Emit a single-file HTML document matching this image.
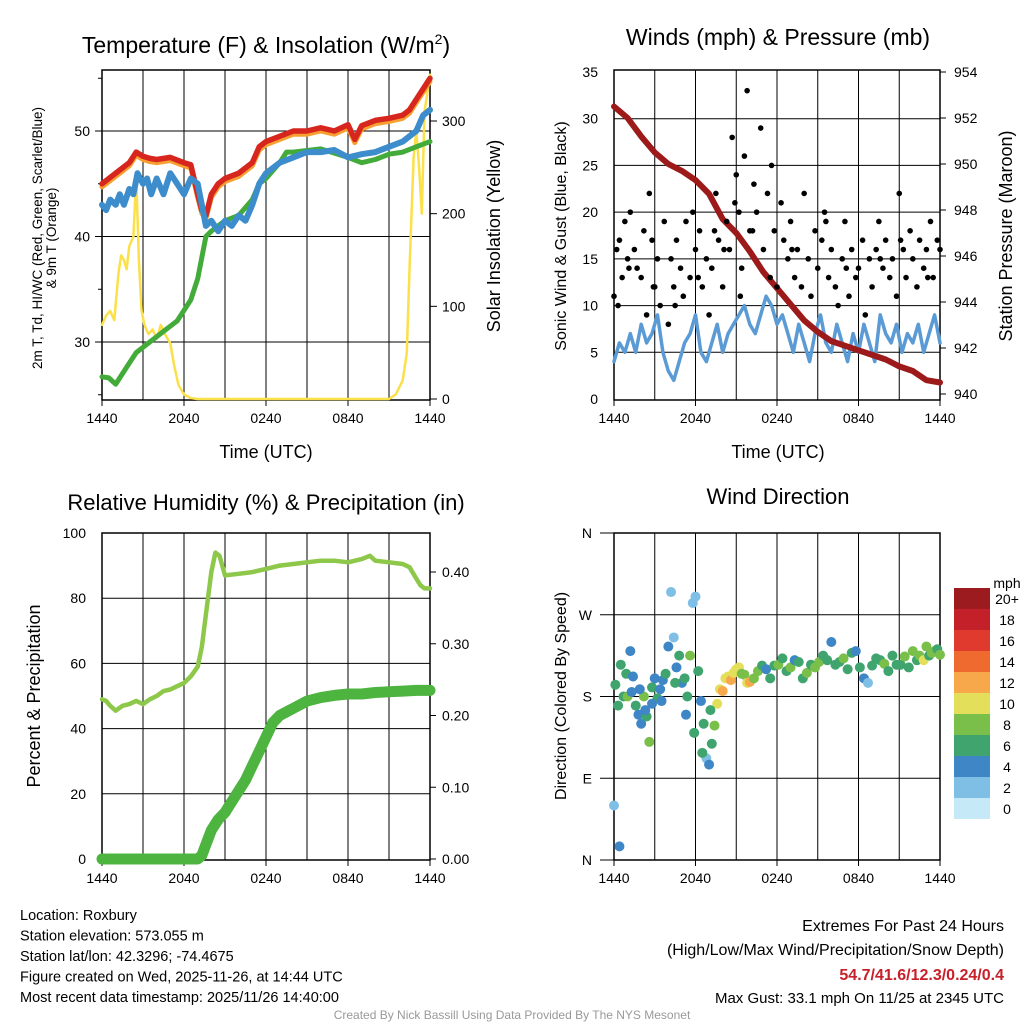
<!DOCTYPE html>
<html><head><meta charset="utf-8"><style>
body{margin:0;background:#fff;font-family:"Liberation Sans",sans-serif}
svg text{font-family:"Liberation Sans",sans-serif}
</style></head><body>
<svg id="s" width="1024" height="1024" xmlns="http://www.w3.org/2000/svg"></svg>
<script>
// ---- data (time in hours since 14:40 UTC) ----
const xTickLabels=["1440","2040","0240","0840","1440"];
const tempH=[0,0.5,1,1.5,2,2.5,3,3.5,4,5,6,6.5,7,7.3,7.6,8,8.5,9,10,11,11.5,12,13,14,15,16,17,18,18.5,19,20,21,22,22.5,23,23.5,24];
const tempV=[45,45.5,46,46.5,47,48,47.6,47.4,47.3,47.5,47,46.8,44,42.5,42,44,45,45.5,46,47,48.5,49,49.5,50,50,50.3,50,50.6,49.2,50.5,51,51.2,51.5,52,53,54,55];
const dewH=[0,0.3,0.6,1,1.3,1.6,2,2.3,2.6,3,3.3,3.6,4,4.5,5,5.5,6,6.5,7,7.3,7.6,8,8.5,9,9.5,10,10.5,11,11.5,12,13,14,15,16,17,18,19,20,21,22,22.5,23,23.5,24];
const dewV=[43,42.5,43.5,43,44,43,44.5,44,46,45,45.5,44,45.5,44,46,45,44,45.5,45,43,41,41.5,40.5,41.5,41,42,41.5,43,45,46,47,47.5,48,48,48.2,47.5,47.8,48,48.5,49,49.5,50,51.5,52];
const greenH=[0,0.5,1,1.5,2,2.5,3,3.5,4,4.5,5,5.5,6,6.5,7,7.3,7.6,8,8.5,9,10,11,11.5,12,13,13.5,14,16,18,19,20,21,22,23,24];
const greenV=[26.7,26.6,26,27,28,29,29.5,30,30.5,31,31.5,32,33,34,36,38,40,40.5,41,41.5,42,43.5,45,45.5,47,48,48,48.3,47.5,47,47.3,47.8,48,48.5,49];
const solarH=[0,0.3,0.6,0.9,1.2,1.4,1.6,1.8,2,2.3,2.5,2.7,2.9,3.1,3.4,3.7,4,4.3,4.6,5,5.3,5.6,6,6.5,7,21,21.5,22,22.3,22.5,22.8,23,23.2,23.4,23.6,23.8,24];
const solarV=[80,90,95,85,135,155,150,140,165,175,240,150,95,80,70,75,65,80,70,60,35,15,5,1,0,0,5,20,50,140,260,290,250,200,310,330,350];
const presH=[0,1,2,3,4,5,6,7,8,9,10,11,12,13,14,15,16,17,18,19,20,21,22,23,24];
const presV=[952.5,952,951.2,950.5,950,949.7,949.3,948.7,947.6,947,946.2,945.3,944.6,943.9,943.2,942.7,942.3,942.1,941.9,941.7,941.5,941.2,941,940.6,940.5];
const windH=[0,0.4,0.8,1.2,1.6,2,2.4,2.8,3.2,3.6,4,4.4,4.8,5.2,5.6,6,6.4,6.8,7.2,7.6,8,8.4,8.8,9.2,9.6,10,10.4,10.8,11.2,11.6,12,12.4,12.8,13.2,13.6,14,14.4,14.8,15.2,15.6,16,16.4,16.8,17.2,17.6,18,18.4,18.8,19.2,19.6,20,20.4,20.8,21.2,21.6,22,22.4,22.8,23.2,23.6,24];
const windV=[4,6,5,7,5,8,6,7,9,5,3,2,4,6,7,9,5,4,6,8,5,7,8,9,10,8,7,9,11,10,8,9,7,5,8,6,4,7,9,6,5,8,6,4,7,5,8,6,4,9,7,6,8,5,7,6,8,5,7,9,6];
const gustH=[0,0.2,0.4,0.6,0.8,1,1.2,1.5,1.7,2,2.2,2.4,2.6,2.8,3,3.2,3.4,3.7,4,4.2,4.4,4.6,4.9,5.1,5.3,5.6,5.8,6,6.3,6.5,6.8,7,7.2,7.5,7.7,8,8.3,8.5,8.7,9,9.2,9.4,9.6,9.8,10,10.3,10.5,10.8,11,11.3,11.5,11.8,12,12.3,12.5,12.8,13,13.3,13.5,13.8,14,14.3,14.5,14.8,15,15.3,15.5,15.8,16,16.3,16.5,16.8,17,17.3,17.5,17.8,18,18.3,18.5,18.8,19,19.3,19.5,19.8,20,20.3,20.5,20.8,21,21.3,21.5,21.8,22,22.3,22.5,22.8,23,23.3,23.5,23.8,24,0.3,1.1,2.9,4.5,6.2,7.4,8.1,8.9,9.3,10.2,11.6,13.1,15.6,17.1,19.6,21.1,23.1];
const gustV=[11,16,17,13,19,15,20,16,14,13,18,9,22,17,12,15,10,19,8,15,12,17,14,11,19,13,20,16,18,12,15,9,14,22,17,12,19,16,28,24,20,14,26,33,18,23,20,29,16,22,13,18,12,21,17,15,19,13,16,12,22,15,11,18,14,17,20,13,16,12,10,15,19,11,16,13,14,17,9,15,12,16,19,14,17,13,15,11,22,16,13,18,15,12,17,14,16,19,13,17,16,10,14,12,10,13,18,16,21,11,18,25,16,19,14,15,17,13,11];
const dirH=[0,0.1,0.3,0.5,0.7,0.9,1,1.2,1.4,1.6,1.8,2,2.2,2.4,2.6,2.8,3,3.2,3.4,3.6,3.8,4,4.2,4.4,4.6,4.8,5,5.2,5.4,5.6,5.8,6,6.2,6.4,6.6,6.8,7,7.2,7.4,7.6,7.8,8,8.2,8.4,8.6,8.8,9,9.2,9.4,9.6,9.8,10,10.3,10.6,10.9,11.2,11.5,11.8,12.1,12.4,12.7,13,13.3,13.6,13.9,14.2,14.5,14.8,15.1,15.4,15.7,16,16.3,16.6,16.9,17.2,17.5,17.8,18.1,18.4,18.7,19,19.3,19.6,19.9,20.2,20.5,20.8,21.1,21.4,21.7,22,22.3,22.5,22.8,23,23.2,23.4,23.6,23.8,24,0.4,1.3,2.8,3.5,4.5,5.3,5.9,6.5,7.1,1.9,2.3];
const dirV=[60,193,170,215,180,205,180,230,202,170,160,150,180,158,130,190,200,178,188,198,205,235,295,245,212,225,195,200,180,225,283,290,208,175,150,112,105,128,148,172,188,186,200,202,198,206,210,212,205,204,195,196,200,208,214,210,200,214,215,222,208,212,220,218,200,206,215,212,218,225,220,240,215,218,222,210,228,230,212,200,195,214,222,220,216,208,225,215,215,224,212,230,220,225,220,235,225,228,230,232,226,15,185,172,175,195,160,140,118,165,188,165,198];
const dirS=[2,6,6,5,6,6,8,4,4,5,4,4,8,6,8,6,4,5,4,4,6,4,2,2,4,6,4,6,5,8,2,2,6,4,6,2,4,6,8,10,10,12,10,10,12,10,10,10,8,8,10,12,8,8,6,4,6,6,8,6,6,8,4,6,6,8,6,8,8,6,6,4,6,6,8,6,6,4,6,4,2,6,6,6,8,6,6,6,6,8,6,8,6,8,10,8,6,8,8,6,8,4,4,4,4,6,4,6,6,6,4,4];
const rhH=[0,0.3,0.6,1,1.5,2,2.5,3,3.5,4,4.5,5,5.5,6,6.5,7,7.3,7.6,8,8.3,8.6,9,10,11,12,13,14,15,16,17,18,19,19.6,20,21,22,22.5,23,23.3,23.6,24];
const rhV=[49,48.5,47,45.5,47,47.5,48.5,47.5,49,50,51.5,52,53,54,56,59,65,75,88,94,93,87,87.5,88,89,90,90.5,91,91.5,91.5,91,92,93,91.5,91,90.5,89.5,86,84,83,83];
const prH=[0,1,2,3,4,5,6,7,7.3,7.6,8,8.5,9,9.5,10,10.5,11,11.5,12,12.5,13,13.5,14,15,16,17,18,19,20,21,22,23,24];
const prV=[0,0,0,0,0,0,0,0,0.005,0.02,0.04,0.055,0.065,0.08,0.095,0.11,0.13,0.15,0.17,0.19,0.2,0.205,0.21,0.22,0.225,0.228,0.23,0.23,0.232,0.233,0.234,0.235,0.235];
const cbLabels=["0","2","4","6","8","10","12","14","16","18","20+"];
const cbColors=["#c6e9f8","#7fbfe6","#3f86c6","#3fa46e","#79bf4a","#e3df5a","#f7a84a","#ef6a2e","#e03a2e","#c4202a","#9b1b1e"];

const S=document.getElementById('s');const NS="http://www.w3.org/2000/svg";
function el(t,a,txt){const e=document.createElementNS(NS,t);for(const k in a)e.setAttribute(k,a[k]);if(txt!==undefined)e.textContent=txt;S.appendChild(e);return e;}
function txt(x,y,s,size,anchor,name,extra){const e=el('text',Object.assign({x:x,y:y,'font-size':size,'text-anchor':anchor||'middle',fill:'#000'},extra||{}),s);

return e;}
function lin(a0,a1,p0,p1){return v=>p0+(v-a0)*(p1-p0)/(a1-a0);}
function path(xs,ys,fx,fy){return xs.map((h,i)=>(i?'L':'M')+fx(h).toFixed(1)+','+fy(ys[i]).toFixed(1)).join('');}
function line(xs,ys,fx,fy,col,w,name){const p=el('path',{d:path(xs,ys,fx,fy),fill:'none',stroke:col,'stroke-width':w,'stroke-linejoin':'round','stroke-linecap':'round'});

}
function frame(x0,y0,x1,y1,name){
 for(let k=1;k<8;k++){const x=x0+(x1-x0)*k/8;const g=el('line',{x1:x,x2:x,y1:y0,y2:y1,stroke:'#000','stroke-width':1});
 
 }
 const r=el('rect',{x:x0,y:y0,width:x1-x0,height:y1-y0,fill:'none',stroke:'#000','stroke-width':1.5});
 
 
 xTickLabels.forEach((l,i)=>{const x=x0+(x1-x0)*i/4;el('line',{x1:x,x2:x,y1:y1,y2:y1+6,stroke:'#000'});txt(x,y1+23,l,14,'middle','x-tick-label');});
}
function hgrid(x0,x1,y){const g=el('line',{x1:x0,x2:x1,y1:y,y2:y,stroke:'#000','stroke-width':1});

}

// ---- Panel 1 ----
{const x0=102,x1=430,y0=70,y1=400;const fx=lin(0,24,x0,x1);const fy=lin(30,50,342,131);const fs=lin(0,300,399,121);
[30,40,50].forEach(v=>{hgrid(x0,x1,fy(v));el('line',{x1:x0-7,x2:x0,y1:fy(v),y2:fy(v),stroke:'#000'});txt(x0-12,fy(v)+5,String(v),14,'end','temp-y-tick');});
[25,35,45,55].forEach(v=>el('line',{x1:x0-4,x2:x0,y1:fy(v),y2:fy(v),stroke:'#000'}));
[0,100,200,300].forEach(v=>{el('line',{x1:x1,x2:x1+7,y1:fs(v),y2:fs(v),stroke:'#000'});txt(x1+12,fs(v)+5,String(v),14,'start','solar-y-tick');});
frame(x0,y0,x1,y1,'temperature-plot-area');
line(solarH,solarV,fx,fs,'#fbe04a',2.5,'solar-insolation-line');
line(greenH,greenV,fx,fy,'#43ab3a',5,'dewpoint-line');
line(tempH,tempV.map(v=>v-0.3),fx,fy,'#f7a030',5,'9m-temp-line');
line(tempH,tempV,fx,fy,'#d7261e',5.5,'temperature-line');
line(dewH,dewV,fx,fy,'#3d8ccb',6,'hiwc-line');
const t=txt(266,53,'Temperature (F) & Insolation (W/m',23,'middle','temperature-chart-title');const ts=document.createElementNS(NS,'tspan');ts.setAttribute('dy','-9');ts.setAttribute('font-size','14');ts.textContent='2';t.appendChild(ts);const ts2=document.createElementNS(NS,'tspan');ts2.setAttribute('dy','9');ts2.textContent=')';t.appendChild(ts2);
txt(266,458,'Time (UTC)',18,'middle','temp-x-axis-title');
txt(0,0,'2m T, Td, HI/WC (Red, Green, Scarlet/Blue)',13.5,'middle','temp-y-axis-title',{transform:'translate(42,238) rotate(-90)'});
txt(0,0,'& 9m T (Orange)',13.5,'middle','temp-y-axis-title-2',{transform:'translate(56,238) rotate(-90)'});
txt(0,0,'Solar Insolation (Yellow)',18,'middle','solar-y-axis-title',{transform:'translate(500,236) rotate(-90)'});
}
// ---- Panel 2 ----
{const x0=614,x1=940,y0=70,y1=400;const fx=lin(0,24,x0,x1);const fy=lin(0,35,399,72);const fp=lin(940,954,394,72);
[5,10,15,20,25,30].forEach(v=>hgrid(x0,x1,fy(v)));
[0,5,10,15,20,25,30,35].forEach(v=>txt(x0-16,fy(v)+5,String(v),14,'end','wind-y-tick'));
[940,942,944,946,948,950,952,954].forEach(v=>{el('line',{x1:x1,x2:x1+6,y1:fp(v),y2:fp(v),stroke:'#000'});txt(x1+14,fp(v)+5,String(v),14,'start','pressure-y-tick');});
frame(x0,y0,x1,y1,'wind-plot-area');
line(windH,windV,fx,fy,'#5b9bd5',3.5,'sonic-wind-line');
line(presH,presV,fx,fp,'#9c1a1a',6,'pressure-line');
gustH.forEach((h,i)=>{const c=el('circle',{cx:fx(h),cy:fy(gustV[i]),r:2.8,fill:'#000'});

});
txt(778,45,'Winds (mph) & Pressure (mb)',23,'middle','wind-chart-title');
txt(778,458,'Time (UTC)',18,'middle','wind-x-axis-title');
txt(0,0,'Sonic Wind & Gust (Blue, Black)',16,'middle','wind-y-axis-title',{transform:'translate(566,236) rotate(-90)'});
txt(0,0,'Station Pressure (Maroon)',18,'middle','pressure-y-axis-title',{transform:'translate(1012,236) rotate(-90)'});
}
// ---- Panel 3 ----
{const x0=102,x1=430,y0=533,y1=860;const fx=lin(0,24,x0,x1);const fy=lin(0,100,859,533);const fr=lin(0,0.4,859,572);
[20,40,60,80].forEach(v=>hgrid(x0,x1,fy(v)));
[0,20,40,60,80,100].forEach(v=>txt(x0-16,fy(v)+5,String(v),14,'end','rh-y-tick'));
[0,0.1,0.2,0.3,0.4].forEach(v=>{el('line',{x1:x1,x2:x1+6,y1:fr(v),y2:fr(v),stroke:'#000'});txt(x1+12,fr(v)+5,v.toFixed(2),14,'start','precip-y-tick');});
frame(x0,y0,x1,y1,'rh-plot-area');
line(rhH,rhV,fx,fy,'#8dc84a',4.5,'relative-humidity-line');
line(prH,prV,fx,fr,'#4cb43f',11,'precipitation-line');
txt(266,510,'Relative Humidity (%) & Precipitation (in)',22,'middle','rh-chart-title');
txt(0,0,'Percent & Precipitation',18,'middle','rh-y-axis-title',{transform:'translate(40,696) rotate(-90)'});
}
// ---- Panel 4 ----
{const x0=614,x1=940,y0=533,y1=860;const fx=lin(0,24,x0,x1);const fy=lin(0,360,860,533);
["N","E","S","W","N"].forEach((l,i)=>{const y=fy(i*90);hgrid(x0-14,x1,y);txt(x0-22,y+5,l,14,'end','direction-y-tick');});
frame(x0,y0,x1,y1,'direction-plot-area');
dirH.forEach((h,i)=>{const c=el('circle',{cx:fx(h),cy:fy(dirV[i]),r:5,fill:cbColors[Math.min(10,Math.round(dirS[i]/2))]});

});
txt(778,504,'Wind Direction',22,'middle','direction-chart-title');
txt(0,0,'Direction (Colored By Speed)',16,'middle','direction-y-axis-title',{transform:'translate(566,696) rotate(-90)'});
txt(1007,588,'mph',14,'middle','colorbar-title');
cbLabels.forEach((l,i)=>{const y=819-(i+1)*21;const r=el('rect',{x:954,y:y,width:36,height:21,fill:cbColors[i]});


txt(1007,y+16,l,14,'middle','colorbar-label');});
}
// ---- footer ----
["Location: Roxbury","Station elevation: 573.055 m","Station lat/lon: 42.3296; -74.4675","Figure created on Wed, 2025-11-26, at 14:44 UTC","Most recent data timestamp: 2025/11/26 14:40:00"].forEach((s,i)=>txt(20,920+i*20.5,s,14.5,'start','station-info'));
txt(1004,931,'Extremes For Past 24 Hours',16,'end','extremes-title');
txt(1004,955,'(High/Low/Max Wind/Precipitation/Snow Depth)',16,'end','extremes-subtitle');
txt(1004,980,'54.7/41.6/12.3/0.24/0.4',16,'end','extremes-values',{fill:'#c8202a','font-weight':'bold'});
txt(1004,1003,'Max Gust: 33.1 mph On 11/25 at 2345 UTC',15,'end','max-gust');
txt(512,1019,'Created By Nick Bassill Using Data Provided By The NYS Mesonet',12,'middle','credit',{fill:'#999'});
</script>
</body></html>
